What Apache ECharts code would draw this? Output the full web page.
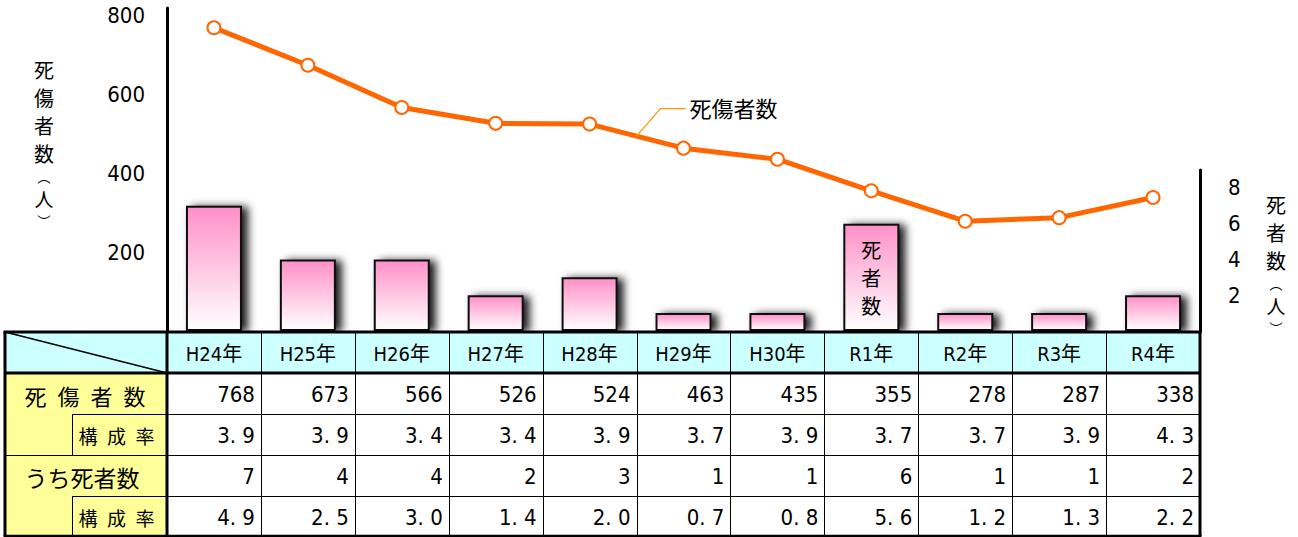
<!DOCTYPE html>
<html><head><meta charset="utf-8">
<script src="https://cdn.jsdelivr.net/npm/echarts@6/dist/echarts.min.js"></script>
<style>html,body{margin:0;padding:0;background:#fff}#c{width:1298px;height:537px}</style>
</head><body><div id="c"></div>
<script>
// ---- data ----
const categories = ['H24年','H25年','H26年','H27年','H28年','H29年','H30年','R1年','R2年','R3年','R4年'];
const casualties = [768,673,566,526,524,463,435,355,278,287,338];
const casualtyRate = [3.9,3.9,3.4,3.4,3.9,3.7,3.9,3.7,3.7,3.9,4.3];
const deaths = [7,4,4,2,3,1,1,6,1,1,2];
const deathRate = [4.9,2.5,3.0,1.4,2.0,0.7,0.8,5.6,1.2,1.3,2.2];
const rowLabels = ['死\u2002傷\u2002者\u2002数','構\u2002成\u2002率','うち死者数','構\u2002成\u2002率'];
const leftTitle = ['死','傷','者','数','︵','人','︶'];
const rightTitle = ['死','者','数','︵','人','︶'];
const lineName = '死傷者数';
const barInsideLabel = '死\n者\n数';

// ---- styling / layout ----
const NARROW = "'Liberation Sans Narrow','DejaVu Sans Condensed','Noto Sans CJK JP',sans-serif";
const CJK = "'Noto Sans CJK JP',sans-serif";
const GL = 167, GR = 1200, PLOT_BOTTOM = 331;

const option = {
  animation: false,
  backgroundColor: '#fff',
  grid: [
    {left: GL, right: 1298 - GR, top: 8, bottom: 537 - PLOT_BOTTOM},
    {left: GL, right: 1298 - GR, top: 170, bottom: 537 - PLOT_BOTTOM}
  ],
  xAxis: [
    {type: 'category', gridIndex: 0, data: categories, show: false},
    {type: 'category', gridIndex: 1, data: categories, show: false}
  ],
  yAxis: [
    {type: 'value', gridIndex: 0, position: 'left', min: 0, max: 818, interval: 200,
     axisLine: {show: true, lineStyle: {color: '#000', width: 3}},
     axisTick: {show: false}, splitLine: {show: false},
     axisLabel: {showMinLabel: false, showMaxLabel: false, margin: 22, color: '#000', fontSize: 22, fontFamily: NARROW}},
    {type: 'value', gridIndex: 1, position: 'right', min: 0, max: 9, interval: 2,
     axisLine: {show: true, lineStyle: {color: '#000', width: 3}},
     axisTick: {show: false}, splitLine: {show: false},
     axisLabel: {showMinLabel: false, showMaxLabel: false, margin: 28, color: '#000', fontSize: 22, fontFamily: NARROW}}
  ],
  series: [
    {type: 'bar', xAxisIndex: 1, yAxisIndex: 1, barWidth: 56, z: 2,
     data: deaths.map((v, i) => i === 7 ? {value: v, label: {show: true, position: 'inside', formatter: barInsideLabel,
        fontSize: 20, lineHeight: 28, color: '#000', fontFamily: CJK}} : v),
     itemStyle: {
       color: new echarts.graphic.LinearGradient(0, 0, 0, 1, [{offset: 0, color: '#FF90C8'}, {offset: 1, color: '#FFFFFF'}]),
       borderColor: '#111', borderWidth: 2,
       shadowColor: 'rgba(0,0,0,0.9)', shadowBlur: 8, shadowOffsetX: 6, shadowOffsetY: 1
     }},
    {type: 'line', name: lineName, xAxisIndex: 0, yAxisIndex: 0, z: 5, data: casualties,
     symbol: 'circle', symbolSize: 13,
     lineStyle: {color: '#FF6600', width: 5},
     itemStyle: {color: '#fff', borderColor: '#FF6600', borderWidth: 2}}
  ]
};

const chart = echarts.init(document.getElementById('c'), null, {renderer: 'svg'});
chart.setOption(option);

// ---- table & annotations built from the axis scale ----
const c0 = chart.convertToPixel({xAxisIndex: 0}, 0);
const c1 = chart.convertToPixel({xAxisIndex: 0}, 1);
const band = c1 - c0;
const D = c0 - band / 2;            // left edge of data columns
const R = D + band * categories.length;
const L = 5, SUB = 72;
const rowY = [332, 373, 414, 455, 496, 536];
const g = [];
const line = (x1, y1, x2, y2, w, col) => g.push({type: 'line', z: 10, shape: {x1, y1, x2, y2}, style: {stroke: col || '#000', lineWidth: w}});
// fills
g.push({type: 'rect', z: 5, shape: {x: L, y: rowY[0], width: R - L, height: rowY[1] - rowY[0]}, style: {fill: '#CCFFFF'}});
g.push({type: 'rect', z: 5, shape: {x: L, y: rowY[1], width: D - L, height: rowY[5] - rowY[1]}, style: {fill: '#FFFF99'}});
// thin grid lines
for (let i = 1; i < categories.length; i++) { const x = Math.round(D + i * band) + 0.5; line(x, rowY[0], x, rowY[5], 1); }
[2, 3, 4].forEach(r => line(D, rowY[r] + 0.5, R, rowY[r] + 0.5, 1));
line(SUB, rowY[2] + 0.5, D, rowY[2] + 0.5, 1);
line(L, rowY[3] + 0.5, D, rowY[3] + 0.5, 1);
line(SUB, rowY[4] + 0.5, D, rowY[4] + 0.5, 1);
line(SUB + 0.5, rowY[2], SUB + 0.5, rowY[3], 1);
line(SUB + 0.5, rowY[4], SUB + 0.5, rowY[5], 1);
line(L, rowY[0], D, rowY[1], 1.5);
// thick borders
line(L - 1.5, rowY[0], R + 1.5, rowY[0], 3);
line(L, rowY[1], R, rowY[1], 3);
line(L - 1.5, rowY[5], R + 1.5, rowY[5], 2.5);
line(L, rowY[0], L, rowY[5], 3);
line(D, rowY[0], D, rowY[5], 3);
line(R, rowY[0], R, rowY[5], 3);
// texts
const txt = (text, x, y, align, size, fam) => g.push({type: 'text', z: 11, style: {text, x, y, align, verticalAlign: 'middle', fontSize: size, fontFamily: fam, fill: '#000'}});
const mid = r => (rowY[r] + rowY[r + 1]) / 2 + 1;
categories.forEach((c, i) => {
  const cx = D + (i + 0.5) * band, rx = D + (i + 1) * band - 6;
  txt(c, cx, mid(0), 'center', 20, NARROW);
  txt(String(casualties[i]), rx, mid(1), 'right', 22, NARROW);
  txt(casualtyRate[i].toFixed(1).replace('.', '. '), rx, mid(2), 'right', 22, NARROW);
  txt(String(deaths[i]), rx, mid(3), 'right', 22, NARROW);
  txt(deathRate[i].toFixed(1).replace('.', '. '), rx, mid(4), 'right', 22, NARROW);
});
txt(rowLabels[0], (L + D) / 2 - 1, mid(1), 'center', 22, CJK);
txt(rowLabels[1], (SUB + D) / 2 - 3, mid(2), 'center', 19, CJK);
txt(rowLabels[2], (L + D) / 2 - 4, mid(3), 'center', 23, CJK);
txt(rowLabels[3], (SUB + D) / 2 - 3, mid(4), 'center', 19, CJK);

// axis titles (vertical)
const vtitle = (chars, x, y) => g.push({type: 'text', z: 11, style: {
  text: chars.map(ch => (ch === '︵' || ch === '︶') ? '{p|' + ch + '}' : (ch === '人' ? '{b|' + ch + '}' : '{a|' + ch + '}')).join('\n'),
  x, y, align: 'center', verticalAlign: 'top',
  rich: {a: {fontSize: 20, lineHeight: 28, fontFamily: CJK, fill: '#000', align: 'center'},
         b: {fontSize: 19, lineHeight: 26, fontFamily: CJK, fill: '#000', align: 'center'},
         p: {fontSize: 13, lineHeight: 18, fontFamily: CJK, fill: '#000', align: 'center'}}}});
vtitle(leftTitle, 44, 55);
vtitle(rightTitle, 1276, 190);

// line series name with leader line, anchored between H28 and H29 points
const pA = chart.convertToPixel({xAxisIndex: 0, yAxisIndex: 0}, [4, casualties[4]]);
const pB = chart.convertToPixel({xAxisIndex: 0, yAxisIndex: 0}, [5, casualties[5]]);
const ax = (pA[0] + pB[0]) / 2, ay = (pA[1] + pB[1]) / 2;
g.push({type: 'polyline', z: 6, shape: {points: [[ax, ay], [ax + 24, ay - 27.5], [ax + 49, ay - 27.5]]}, style: {stroke: '#FF9900', lineWidth: 1.2, fill: null}});
g.push({type: 'text', z: 11, style: {text: lineName, x: ax + 53, y: ay - 29, align: 'left', verticalAlign: 'middle', fontSize: 22, fontFamily: CJK, fill: '#000'}});

chart.setOption({graphic: g});
</script>
</body></html>
